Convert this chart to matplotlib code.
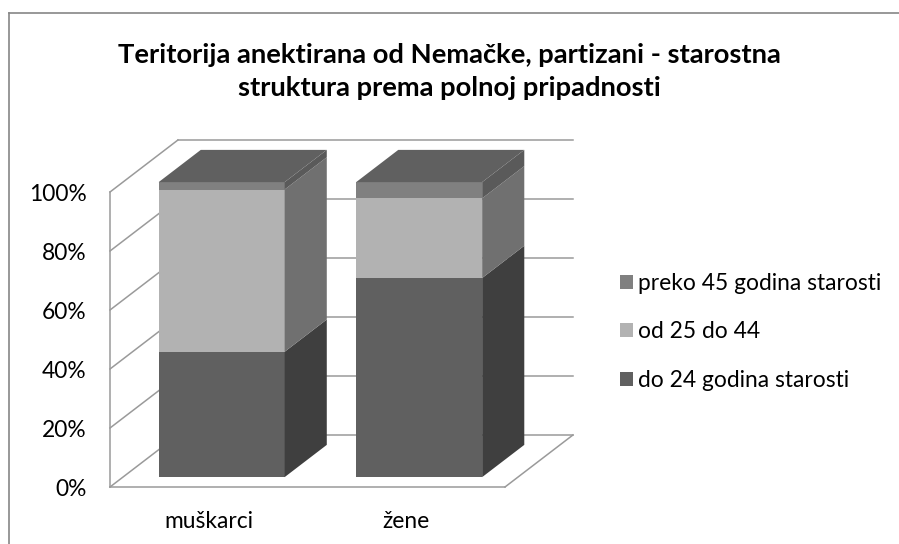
import matplotlib.pyplot as plt
from matplotlib.patches import Polygon, Patch
from matplotlib.lines import Line2D

# data (shares of each age group, %)
categories = ['muškarci', 'žene']
series_names = ['do 24 godina starosti', 'od 25 do 44', 'preko 45 godina starosti']
do_24 = [42.5, 67.5]
od_25_44 = [55.0, 27.0]
preko_45 = [2.5, 5.5]
tick_vals = [0, 0.2, 0.4, 0.6, 0.8, 1.0]
tick_labels = ['0%', '20%', '40%', '60%', '80%', '100%']

# colours: front, side, top
front_cols = ['#606060', '#b2b2b2', '#808080']
side_cols = ['#3f3f3f', '#707070', '#5a5a5a']
top_col = '#606060'
grid_col = '#9a9a9a'

plt.rcParams['font.family'] = ['Lato', 'DejaVu Sans']

W, H = 899, 544
fig = plt.figure(figsize=(W / 100, H / 100), dpi=100)

# oblique projection: depth offset in data units
Dx = 0.344
Dy = 0.1763
ax = fig.add_axes([110 / W, (H - 487) / H, 462 / W, (487 - 140) / H])
ax.set_xlim(-0.5, -0.5 + 462 / 197.5)
ax.set_ylim(0, 1 + Dy)
for s in ax.spines.values():
    s.set_visible(False)
ax.patch.set_alpha(0)

def line(x, y):
    ax.add_line(Line2D(x, y, color=grid_col, lw=1.1, clip_on=False, zorder=1))

x0, x1 = -0.5, 1.5
# left wall
line([x0, x0], [0, 1])
for v in tick_vals:
    line([x0, x0 + Dx], [v, v + Dy])
# back wall gridlines
for v in tick_vals:
    line([x0 + Dx, x1 + Dx], [v + Dy, v + Dy])
# floor
line([x0, x1], [0, 0])
line([x1, x1 + Dx], [0, Dy])

# bars
bw = 0.638
f0, f1 = 0.19, 0.81
series = [do_24, od_25_44, preko_45]
for i in range(len(categories)):
    xl = i - bw / 2 + f0 * Dx
    xr = i + bw / 2 + f0 * Dx
    yb = f0 * Dy
    ddx = (f1 - f0) * Dx
    ddy = (f1 - f0) * Dy
    bottom = 0
    for k, vals in enumerate(series):
        h = vals[i] / 100.0
        y0 = yb + bottom
        y1 = yb + bottom + h
        ax.add_patch(Polygon([(xl, y0), (xr, y0), (xr, y1), (xl, y1)],
                             closed=True, fc=front_cols[k], ec='none', zorder=3, clip_on=False))
        ax.add_patch(Polygon([(xr, y0), (xr + ddx, y0 + ddy), (xr + ddx, y1 + ddy), (xr, y1)],
                             closed=True, fc=side_cols[k], ec='none', zorder=3, clip_on=False))
        bottom += h
    ytop = yb + bottom
    ax.add_patch(Polygon([(xl, ytop), (xr, ytop), (xr + ddx, ytop + ddy), (xl + ddx, ytop + ddy)],
                         closed=True, fc=top_col, ec='none', zorder=3, clip_on=False))

ax.set_yticks(tick_vals)
ax.set_yticklabels(tick_labels, fontsize=16.4)
ax.set_xticks(range(len(categories)))
ax.set_xticklabels(categories, fontsize=16.4)
ax.tick_params(axis='y', length=0, pad=17)
ax.tick_params(axis='x', length=0, pad=17)

# legend
handles = [Patch(fc=front_cols[k], ec='none') for k in [2, 1, 0]]
labels = [series_names[k] for k in [2, 1, 0]]
fig.legend(handles, labels, loc='center left', bbox_to_anchor=(611 / W, 1 - 332 / H),
           frameon=False, fontsize=16.4, handlelength=0.57, handleheight=0.57,
           handletextpad=0.22, labelspacing=1.22, borderaxespad=0)

fig.text(0.5, 1 - 71.5 / H, 'Teritorija anektirana od Nemačke, partizani - starostna\nstruktura prema polnoj pripadnosti',
         ha='center', va='center', fontsize=19.7, fontweight='bold', linespacing=1.42)

# chart border
fig.add_artist(Line2D([9 / W, 1], [1 - 12.5 / H, 1 - 12.5 / H], color='#868686', lw=1.2))
fig.add_artist(Line2D([9 / W, 9 / W], [0, 1 - 12.5 / H], color='#868686', lw=1.2))

fig.savefig('out.png', dpi=100)
